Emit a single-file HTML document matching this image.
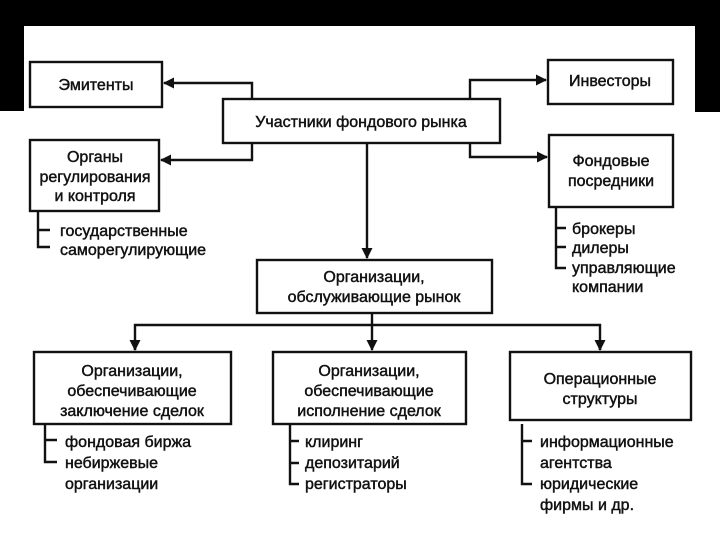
<!DOCTYPE html>
<html><head><meta charset="utf-8"><style>
html,body{margin:0;padding:0;background:#fff}
svg{display:block}
text{font-family:"Liberation Sans Narrow","Liberation Sans",sans-serif;font-size:16px;fill:#111;stroke:#111;stroke-width:0.45px}
</style></head><body>
<svg width="720" height="540" viewBox="0 0 720 540" xmlns="http://www.w3.org/2000/svg">
<rect x="0" y="0" width="720" height="540" fill="#fff"/>
<rect x="0" y="0" width="720" height="26" fill="#000"/>
<rect x="0" y="0" width="24" height="111" fill="#000"/>
<rect x="695" y="0" width="25" height="112" fill="#000"/>
<defs><marker id="a" markerWidth="11" markerHeight="11" refX="10" refY="5.5" orient="auto" markerUnits="userSpaceOnUse"><path d="M0,0 L11,5.5 L0,11 Z" fill="#111"/></marker></defs>
<g fill="none" stroke="#111" stroke-width="2.4">
<rect x="30" y="62" width="132" height="45"/>
<rect x="223" y="99" width="277" height="44"/>
<rect x="548" y="60" width="125" height="44"/>
<rect x="30" y="140" width="129" height="71"/>
<rect x="549" y="135" width="124" height="72"/>
<rect x="257" y="260" width="235" height="53"/>
<rect x="34" y="352" width="197" height="72"/>
<rect x="273" y="352" width="193" height="72"/>
<rect x="510" y="352" width="181" height="68"/>
<path d="M252 99 V83 H164" marker-end="url(#a)"/>
<path d="M252 143 V160 H161" marker-end="url(#a)"/>
<path d="M470 99 V80 H546" marker-end="url(#a)"/>
<path d="M470 143 V157 H547" marker-end="url(#a)"/>
<path d="M367 143 V258" marker-end="url(#a)"/>
<path d="M372 313 V350" marker-end="url(#a)"/>
<path d="M135 350 V325 H600 V350" />
<path d="M135 340 V350" marker-end="url(#a)"/>
<path d="M600 340 V350" marker-end="url(#a)"/>
<path d="M38 211 V247 H50 M38 230 H50"/>
<path d="M556 207 V268 H566 M556 228 H566 M556 247 H566"/>
<path d="M45 424 V462 H57 M45 440 H57"/>
<path d="M290 424 V484 H299 M290 441 H299 M290 463 H299"/>
<path d="M522 424 V484 H532 M522 441 H532"/>
</g>
<g text-anchor="middle">
<text x="96" y="90">Эмитенты</text>
<text x="361" y="127">Участники фондового рынка</text>
<text x="610" y="86">Инвесторы</text>
<text x="95" y="162">Органы</text>
<text x="95" y="182">регулирования</text>
<text x="95" y="201">и контроля</text>
<text x="611" y="166">Фондовые</text>
<text x="611" y="186">посредники</text>
<text x="374" y="282">Организации,</text>
<text x="374" y="302">обслуживающие рынок</text>
<text x="132" y="376">Организации,</text>
<text x="132" y="396">обеспечивающие</text>
<text x="132" y="416">заключение сделок</text>
<text x="369" y="376">Организации,</text>
<text x="369" y="396">обеспечивающие</text>
<text x="369" y="416">исполнение сделок</text>
<text x="600" y="384">Операционные</text>
<text x="600" y="404">структуры</text>
</g>
<g>
<text x="60" y="236">государственные</text>
<text x="60" y="255">саморегулирующие</text>
<text x="572" y="234">брокеры</text>
<text x="572" y="253">дилеры</text>
<text x="572" y="273">управляющие</text>
<text x="572" y="292">компании</text>
<text x="65" y="447">фондовая биржа</text>
<text x="65" y="468">небиржевые</text>
<text x="65" y="489">организации</text>
<text x="305" y="447">клиринг</text>
<text x="305" y="468">депозитарий</text>
<text x="305" y="489">регистраторы</text>
<text x="540" y="447">информационные</text>
<text x="540" y="468">агентства</text>
<text x="540" y="489">юридические</text>
<text x="540" y="510">фирмы и др.</text>
</g>
</svg>
</body></html>
